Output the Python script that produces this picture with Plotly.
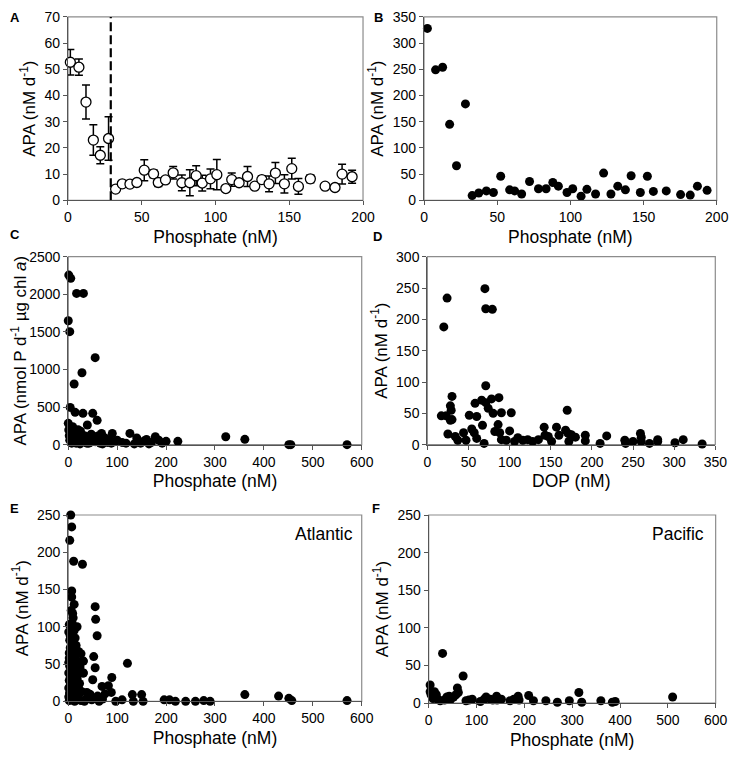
import plotly.graph_objects as go

# Panel A: binned means with error bars
x_a = [1.6, 7.4, 12.2, 17.2, 21.9, 27.5, 32.3, 36.8, 42.0, 46.7, 51.7, 58.0, 61.2, 66.1, 71.3,
       77.2, 82.6, 86.9, 91.0, 96.6, 100.9, 107.0, 111.0, 116.0, 121.7, 126.6, 131.4, 136.3,
       140.6, 146.7, 151.7, 156.2, 164.3, 174.3, 181.0, 185.8, 192.6]
y_a = [52.7, 50.8, 37.5, 23.0, 17.2, 23.6, 4.3, 6.3, 6.2, 6.8, 11.5, 10.1, 6.8, 7.8, 10.5,
       6.7, 6.7, 9.4, 6.6, 8.2, 9.8, 4.5, 7.9, 6.7, 9.1, 5.4, 7.9, 6.3, 10.4, 6.3, 12.1, 5.3,
       8.2, 5.4, 4.9, 10.0, 9.0]
err_a = [4.9, 3.1, 6.5, 5.8, 3.2, 8.3, 1.0, 1.0, 0.8, 1.0, 4.0, 1.5, 1.5, 1.0, 2.4, 3.0, 5.0,
         3.8, 3.0, 3.8, 5.8, 0.8, 2.5, 1.0, 3.8, 1.0, 1.5, 3.0, 4.0, 3.5, 4.0, 3.0, 1.5, 0.5,
         0.5, 3.8, 2.5]
threshold_a = 29

# Panel B: binned maxima
x_b = [2.3, 7.9, 12.7, 17.5, 22.2, 28.3, 32.9, 37.4, 42.6, 47.4, 52.4, 58.5, 61.9, 66.7, 72.1,
       78.2, 83.4, 88.0, 91.8, 97.7, 101.6, 107.3, 111.3, 117.2, 122.7, 127.7, 132.4, 137.6,
       141.5, 147.8, 152.6, 156.7, 165.5, 175.3, 181.9, 186.8, 193.4]
y_b = [328, 249, 254, 145, 66, 184, 9, 14, 18, 15, 46, 20, 18, 12, 36, 22, 22, 34, 27, 15, 22,
       8, 21, 12, 52, 12, 27, 20, 47, 15, 46, 17, 18, 11, 10, 27, 19]

# Panel C: chlorophyll-normalised APA vs phosphate
x_c = [1, 5, 17, 31, 0, 3, 55, 28, 12, 4, 14, 30, 50, 59, 39, 0, 1, 2, 3, 4, 6, 8, 10, 12, 15,
       18, 20, 22, 25, 27, 30, 33, 35, 38, 40, 43, 45, 48, 52, 55, 58, 62, 65, 68, 72, 75, 80,
       85, 90, 95, 100, 110, 118, 126, 135, 140, 148, 155, 160, 170, 178, 185, 192, 200, 224,
       322, 361, 451, 455, 570, 7, 9, 16, 21, 24, 36, 42, 47, 63, 70, 78, 88, 143, 165]
y_c = [2256, 2212, 2012, 2012, 1649, 1503, 1157, 957, 807, 496, 430, 417, 417, 324, 262, 284,
       195, 120, 60, 230, 150, 90, 40, 170, 110, 60, 200, 30, 180, 90, 40, 120, 70, 20, 100, 60,
       30, 80, 110, 40, 70, 120, 20, 150, 60, 90, 30, 70, 150, 40, 60, 30, 20, 150, 10, 90, 20,
       50, 70, 30, 106, 60, 20, 44, 44, 106, 71, 0, 0, 0, 20, 240, 20, 130, 10, 50, 20, 140,
       90, 10, 50, 20, 40, 10]

# Panel D: APA vs DOP
x_d = [20, 24, 70, 71, 79, 71, 30, 87, 78, 66, 58, 28, 17, 23, 28, 29, 30, 51, 60, 67, 71, 74,
       80, 86, 90, 102, 25, 34, 44, 37, 47, 54, 57, 60, 69, 82, 88, 90, 100, 96, 106, 110, 116,
       122, 128, 135, 142, 143, 147, 151, 157, 160, 168, 170, 171, 172, 175, 180, 192, 192, 210,
       218, 240, 241, 250, 259, 260, 260, 270, 280, 280, 301, 311, 334]
y_d = [188, 234, 249, 217, 216, 94, 77, 75, 73, 71, 66, 62, 46, 46, 39, 55, 40, 47, 45, 31, 67,
       58, 50, 32, 51, 51, 17, 13, 19, 7, 7, 25, 19, 10, 2, 21, 19, 8, 22, 7, 5, 11, 7, 8, 5, 8,
       28, 15, 13, 5, 28, 15, 23, 55, 18, 5, 16, 12, 15, 6, 2, 14, 7, 2, 5, 18, 12, 5, 2, 8, 5,
       3, 8, 1]

# Panel E: Atlantic
x_e = [5, 7, 3, 11, 29, 7, 7, 55, 56, 59, 9, 10, 8, 2, 12, 1, 6, 14, 3, 9, 16, 4, 11, 21, 2, 7,
       13, 26, 5, 17, 1, 10, 30, 3, 15, 8, 20, 1, 12, 30, 5, 18, 2, 9, 23, 4, 14, 1, 7, 19, 28, 3,
       11, 16, 1, 6, 22, 9, 2, 13, 26, 35, 40, 45, 33, 52, 55, 31, 31, 50, 121, 89, 69, 82, 88,
       44, 131, 150, 97, 110, 133, 153, 196, 207, 219, 240, 260, 277, 290, 361, 430, 451, 457,
       570, 60, 70, 75, 63, 48, 38, 18, 6, 12, 4, 8, 13, 17, 2, 6, 10, 15, 19, 24, 3, 9, 14, 21]
y_e = [250, 234, 216, 188, 184, 148, 140, 127, 110, 88, 118, 112, 105, 103, 95, 93, 90, 85, 82,
       78, 75, 72, 70, 67, 65, 62, 60, 64, 57, 55, 52, 50, 54, 47, 45, 42, 40, 38, 36, 38, 33, 31,
       28, 26, 24, 21, 20, 18, 15, 14, 13, 11, 9, 7, 6, 4, 3, 2, 1, 0, 1, 2, 5, 9, 0, 60, 45, 54,
       38, 29, 51, 32, 20, 21, 12, 9, 9, 9, 0, 2, 0, 0, 2, 2, 0, 0, 0, 1, 0, 9, 7, 4, 1, 1, 7, 3,
       10, 0, 2, 12, 100, 122, 130, 88, 80, 72, 45, 58, 30, 26, 36, 8, 46, 12, 68, 49, 18]

# Panel F: Pacific
x_f = [29, 72, 3, 3, 5, 12, 16, 9, 19, 24, 33, 38, 43, 46, 52, 57, 60, 62, 78, 84, 91, 108, 116,
       120, 129, 134, 142, 143, 152, 170, 178, 187, 189, 209, 219, 245, 269, 294, 314, 320, 360,
       384, 390, 510]
y_f = [66, 36, 24, 15, 11, 15, 11, 6, 5, 3, 4, 8, 9, 5, 8, 11, 20, 14, 3, 4, 5, 2, 5, 8, 5, 4, 9,
       4, 5, 3, 5, 9, 4, 10, 3, 3, 1, 3, 14, 1, 3, 1, 2, 8]

FONT = "Liberation Sans, Arial, sans-serif"
APA = "APA (nM d<sup>-1</sup>)"

# page adds an 8px body margin, so the figure is 16px smaller than the window
W, H = 721, 742

# (xaxis, yaxis, x domain, y domain, x range, x dtick, y range, y dtick, x title, y title)
panels = [
    ("x", "y", [0.0832, 0.4924], [0.7408, 0.9880], [0, 200], 50, [0, 70], 10, "Phosphate (nM)", APA),
    ("x2", "y2", [0.5770, 0.9830], [0.7408, 0.9880], [0, 200], 50, [0, 350], 50, "Phosphate (nM)", APA),
    ("x3", "y3", [0.0836, 0.4906], [0.4115, 0.6648], [0, 600], 100, [0, 2500], 500, "Phosphate (nM)",
     "APA (nmol P d<sup>-1</sup> µg chl <i>a</i>)"),
    ("x4", "y4", [0.5816, 0.9810], [0.4115, 0.6648], [0, 350], 50, [0, 300], 50, "DOP (nM)", APA),
    ("x5", "y5", [0.0836, 0.4906], [0.0656, 0.3167], [0, 600], 100, [0, 250], 50, "Phosphate (nM)", APA),
    ("x6", "y6", [0.5835, 0.9815], [0.0633, 0.3167], [0, 600], 100, [0, 250], 50, "Phosphate (nM)", APA),
]

fig = go.Figure()

dot = dict(color="black", size=9)

fig.add_trace(go.Scatter(
    x=x_a, y=y_a, mode="markers", xaxis="x", yaxis="y",
    marker=dict(color="white", size=10, line=dict(color="black", width=1.3)),
    error_y=dict(type="data", array=err_a, color="black", thickness=1.5, width=4),
    cliponaxis=False,
))
fig.add_trace(go.Scatter(
    x=[threshold_a, threshold_a], y=[0, 70], mode="lines", xaxis="x", yaxis="y",
    line=dict(color="black", width=2.2, dash="9px,4px"),
))
for xs, ys, xa, ya in [(x_b, y_b, "x2", "y2"), (x_c, y_c, "x3", "y3"), (x_d, y_d, "x4", "y4"),
                       (x_e, y_e, "x5", "y5"), (x_f, y_f, "x6", "y6")]:
    fig.add_trace(go.Scatter(x=xs, y=ys, mode="markers", xaxis=xa, yaxis=ya,
                             marker=dot, cliponaxis=False))

layout = dict(
    width=W, height=H,
    margin=dict(l=0, r=0, t=0, b=0),
    paper_bgcolor="white", plot_bgcolor="white",
    showlegend=False,
    font=dict(family=FONT, size=14, color="black"),
)
shapes = []
for xa, ya, xd, yd, xr, xdt, yr, ydt, xt, yt in panels:
    xkey = "xaxis" + xa[1:]
    ykey = "yaxis" + ya[1:]
    layout[xkey] = dict(
        domain=xd, range=xr, dtick=xdt, anchor=ya, showgrid=False, zeroline=False,
        automargin=False, ticklabeloverflow="allow",
        showline=True, linecolor="#555555", linewidth=1.2, ticks="outside", ticklen=4,
        tickcolor="#555555", tickfont=dict(size=14),
        title=dict(text=xt, font=dict(size=17.5), standoff=6),
    )
    layout[ykey] = dict(
        domain=yd, range=yr, dtick=ydt, anchor=xa, showgrid=False, zeroline=False,
        automargin=False, ticklabeloverflow="allow",
        showline=True, linecolor="#555555", linewidth=1.2, ticks="outside", ticklen=4,
        tickcolor="#555555", tickfont=dict(size=14),
        title=dict(text=yt, font=dict(size=17), standoff=4),
    )
    shapes.append(dict(type="rect", xref=xa + " domain", yref=ya + " domain",
                       x0=0, x1=1, y0=0, y1=1, line=dict(color="#8c8c8c", width=1.2),
                       layer="below"))
layout["shapes"] = shapes

letters = [("A", 0.0, 1.0), ("B", 0.505, 1.0), ("C", 0.0, 0.7075), ("D", 0.503, 0.705),
           ("E", 0.0, 0.3383), ("F", 0.502, 0.3383)]
annotations = [dict(text="<b>%s</b>" % t, x=x, y=y, xref="paper", yref="paper",
                    xanchor="left", yanchor="top", showarrow=False, font=dict(size=13))
               for t, x, y in letters]
annotations.append(dict(text="Atlantic", xref="x5 domain", yref="y5 domain", x=0.977, y=0.965,
                        xanchor="right", yanchor="top", showarrow=False, font=dict(size=17.5)))
annotations.append(dict(text="Pacific", xref="x6 domain", yref="y6 domain", x=0.965, y=0.965,
                        xanchor="right", yanchor="top", showarrow=False, font=dict(size=17.5)))
layout["annotations"] = annotations

fig.update_layout(**layout)

fig.write_html("out.html")
